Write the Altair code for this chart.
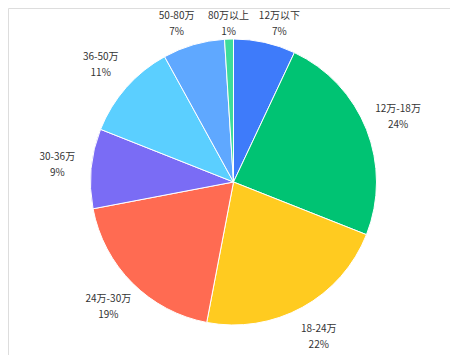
import math
import altair as alt
import pandas as pd

categories = ["12万以下", "12万-18万", "18-24万", "24万-30万", "30-36万", "36-50万", "50-80万", "80万以上"]
values = [7, 24, 22, 19, 9, 11, 7, 1]
colors = ["#3E7BFA", "#00C373", "#FFCB20", "#FF6B52", "#7A6CF5", "#5BCFFF", "#5FA8FF", "#3DDC9A"]

# ---- label layout (mid-angle, spread apart where crowded, clamp to top) ----
total = float(sum(values))
mids = []
acc = 0.0
for v in values:
    mids.append((acc + v / 2) / total * 100)
    acc += v
signed = [m if m < 50 else m - 100 for m in mids]
idx = sorted(range(len(signed)), key=lambda i: signed[i])
MIN_GAP = 5.0
for _ in range(200):
    for a, b in zip(idx[:-1], idx[1:]):
        gap = signed[b] - signed[a]
        if gap < MIN_GAP:
            push = (MIN_GAP - gap) / 2
            signed[a] -= push
            signed[b] += push
label_theta = [s if s >= 0 else s + 100 for s in signed]
LABEL_R = 177.0
MAX_UP = 158.0
label_r = []
for t in label_theta:
    c = math.cos(t / 100 * 2 * math.pi)
    r = LABEL_R
    if c > 0 and LABEL_R * c > MAX_UP:
        r = MAX_UP / c
    label_r.append(r)

df = pd.DataFrame({
    "cat": categories,
    "value": values,
    "order": list(range(len(categories))),
    "label_theta": label_theta,
    "label_r": label_r,
})
df["label"] = [f"{c}\n{v}%" for c, v in zip(df["cat"], df["value"])]

cx, cy = 225.5, 174

arcs = alt.Chart(df).mark_arc(outerRadius=143, stroke="white", strokeWidth=1).encode(
    theta=alt.Theta("value:Q", stack=True),
    order=alt.Order("order:Q"),
    color=alt.Color("cat:N", scale=alt.Scale(domain=categories, range=colors), legend=None),
    x=alt.value(cx),
    y=alt.value(cy),
)

labels = alt.Chart(df).mark_text(
    fontSize=10,
    font="Noto Sans CJK SC",
    color="#333333",
    lineBreak="\n",
    lineHeight=16,
    align="center",
    baseline="middle",
    dy=-8,
).encode(
    theta=alt.Theta("label_theta:Q", stack=False, scale=alt.Scale(domain=[0, 100], range=[0, 2 * math.pi])),
    radius=alt.Radius("label_r:Q", scale=None),
    text="label:N",
    x=alt.value(cx),
    y=alt.value(cy),
)

chart = (arcs + labels).resolve_scale(theta="independent").properties(
    width=442,
    height=347,
    autosize=alt.AutoSizeParams(type="fit", contains="padding"),
    padding=0,
).configure_view(stroke=None).configure(background="white")

chart.save("out.html", embed_options={"renderer": "svg", "actions": False})
